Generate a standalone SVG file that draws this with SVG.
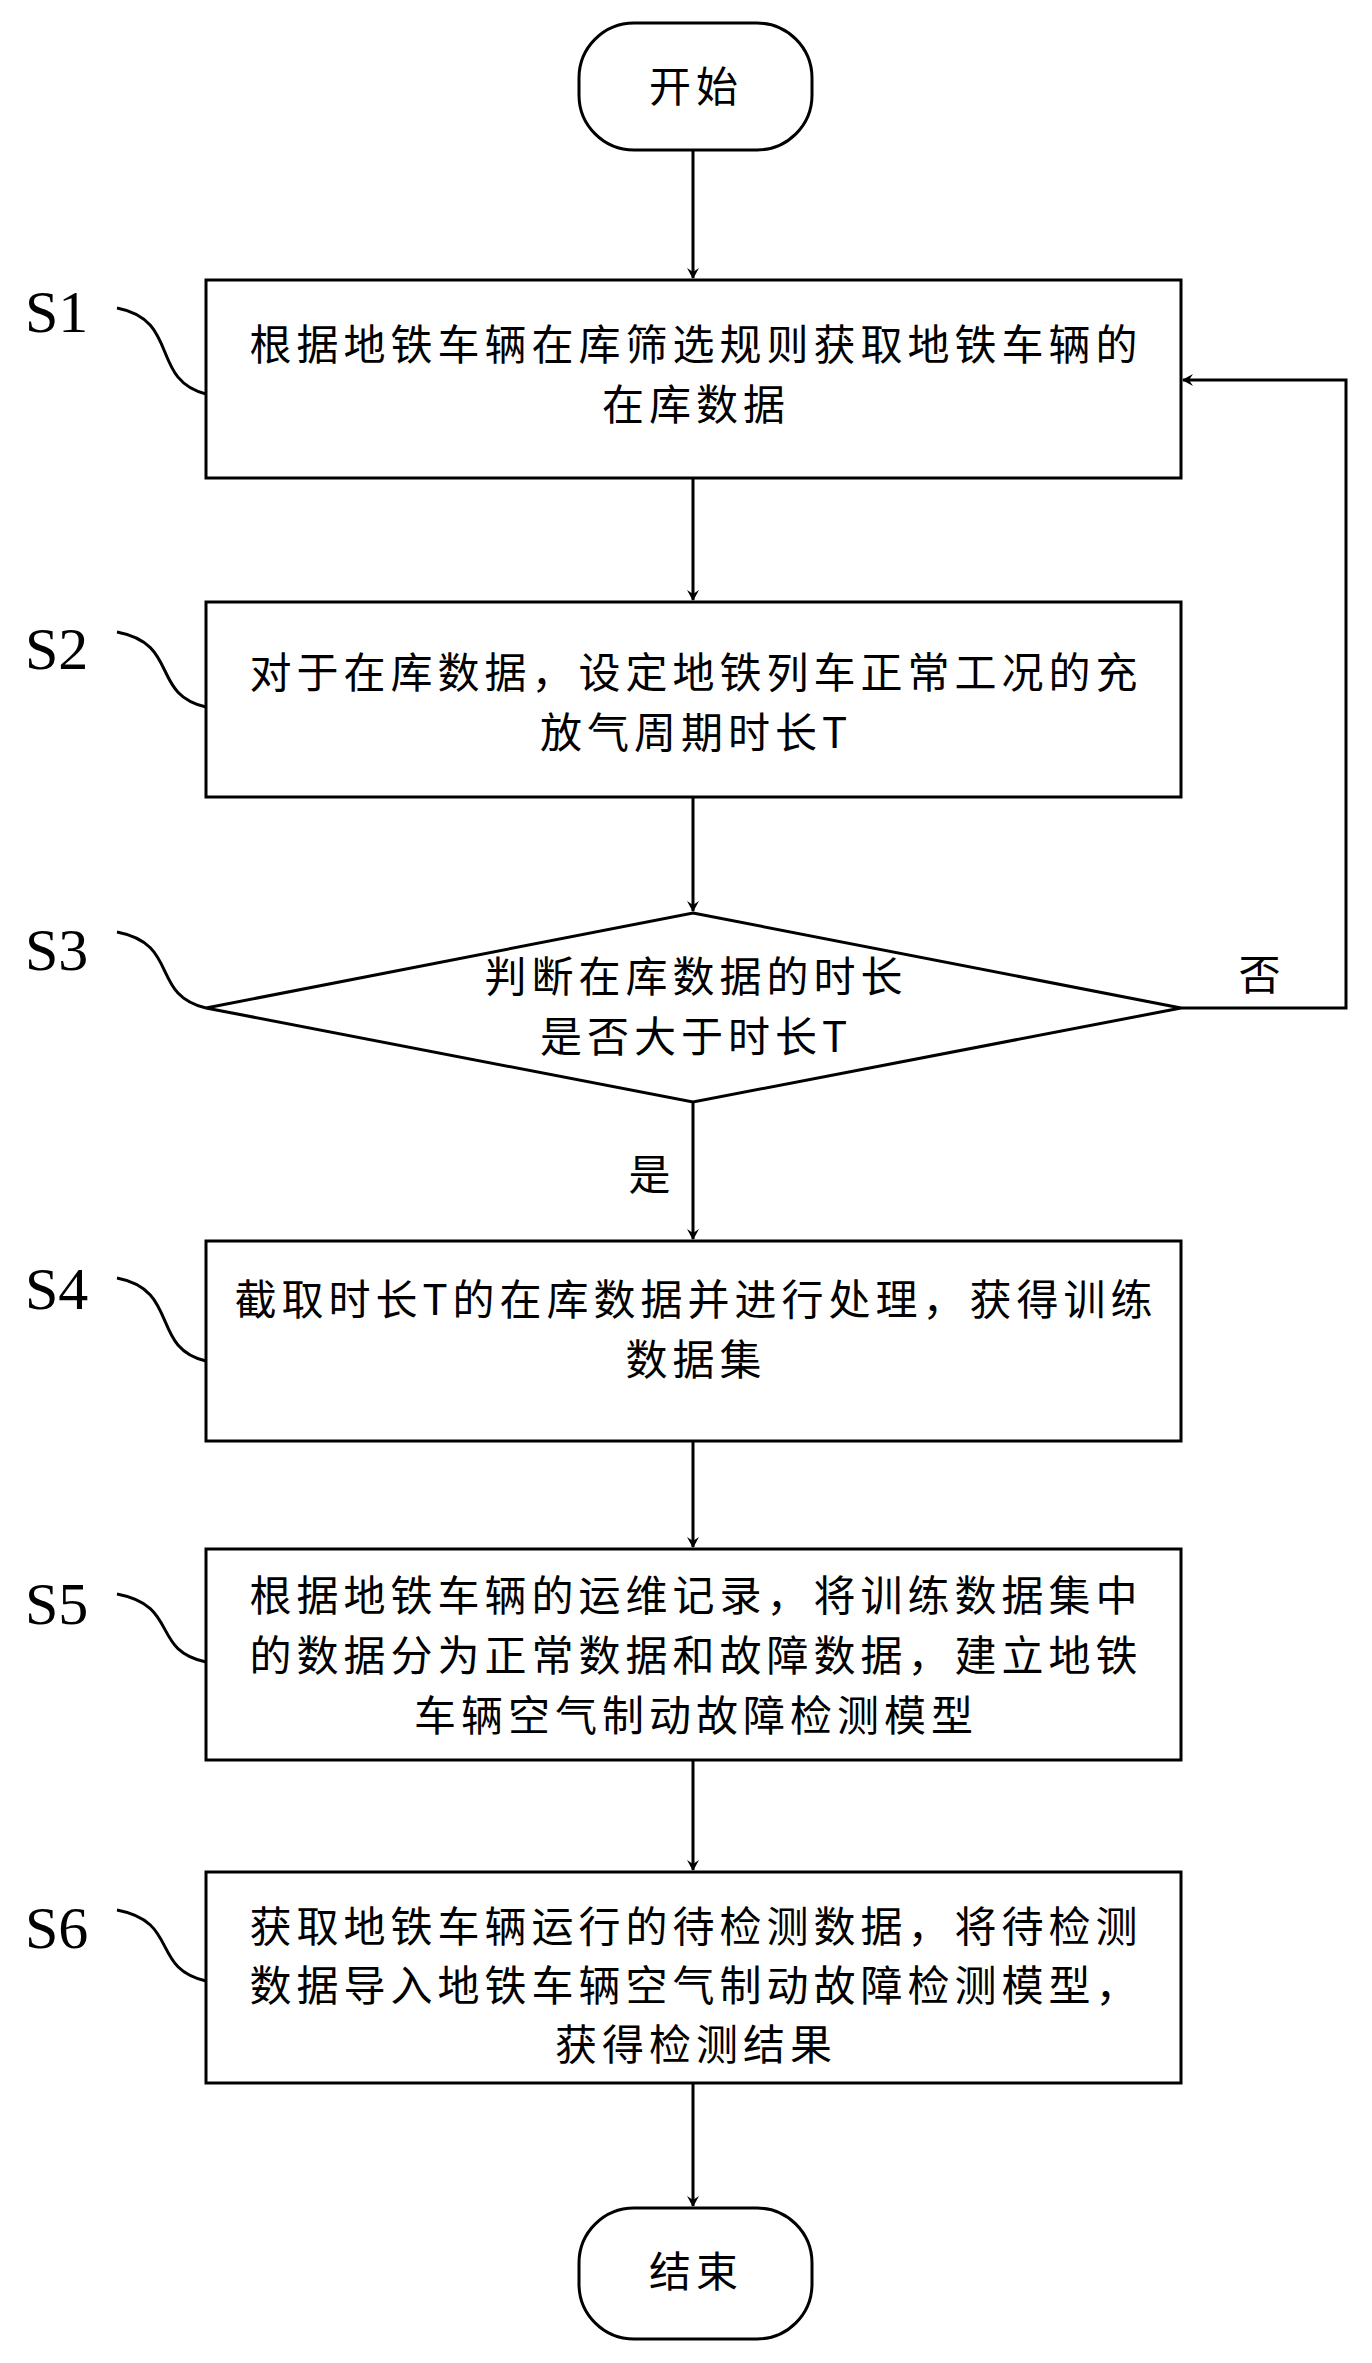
<svg xmlns="http://www.w3.org/2000/svg" width="1372" height="2363" viewBox="0 0 1372 2363">
<style>
.b{fill:#fff;stroke:#000;stroke-width:3}
.t{font-family:"Noto Sans CJK SC",sans-serif;font-size:42px;letter-spacing:5px;text-anchor:middle;fill:#000}
.s{font-family:"Liberation Serif",serif;font-size:60px;fill:#000}
.c{fill:none;stroke:#000;stroke-width:3}
</style>
<defs><marker id="a" markerWidth="12" markerHeight="12" refX="10" refY="6" orient="auto" markerUnits="userSpaceOnUse"><path d="M0,0 L11,6 L0,12 L4,6 Z" fill="#000"/></marker></defs>
<g id="start"><rect class="b" x="579" y="23" width="233" height="127" rx="55"/><text class="t" x="696" y="102">开始</text></g>
<g id="s1"><rect class="b" x="206" y="280" width="975" height="198"/><text class="t" x="696" y="360">根据地铁车辆在库筛选规则获取地铁车辆的</text><text class="t" x="696" y="420">在库数据</text><text class="s" x="25" y="332">S1</text><path class="c" d="M117,308 C180,320 150,380 206,394"/></g>
<g id="s2"><rect class="b" x="206" y="602" width="975" height="195"/><text class="t" x="696" y="688">对于在库数据，设定地铁列车正常工况的充</text><text class="t" x="696" y="748">放气周期时长T</text><text class="s" x="25" y="669">S2</text><path class="c" d="M117,632 C180,644 150,694 206,707"/></g>
<g id="s3"><polygon class="b" points="693,913 1181,1008 693,1102 206,1008"/><text class="t" x="696" y="992">判断在库数据的时长</text><text class="t" x="696" y="1052">是否大于时长T</text><text class="s" x="25" y="970">S3</text><path class="c" d="M117,932 C180,944 150,995 206,1008"/></g>
<g id="s4"><rect class="b" x="206" y="1241" width="975" height="200"/><text class="t" x="696" y="1315">截取时长T的在库数据并进行处理，获得训练</text><text class="t" x="696" y="1375">数据集</text><text class="s" x="25" y="1309">S4</text><path class="c" d="M117,1278 C180,1290 150,1348 206,1361"/></g>
<g id="s5"><rect class="b" x="206" y="1549" width="975" height="211"/><text class="t" x="696" y="1611">根据地铁车辆的运维记录，将训练数据集中</text><text class="t" x="696" y="1671">的数据分为正常数据和故障数据，建立地铁</text><text class="t" x="696" y="1731">车辆空气制动故障检测模型</text><text class="s" x="25" y="1624">S5</text><path class="c" d="M117,1594 C180,1606 150,1650 206,1662"/></g>
<g id="s6"><rect class="b" x="206" y="1872" width="975" height="211"/><text class="t" x="696" y="1942">获取地铁车辆运行的待检测数据，将待检测</text><text class="t" x="696" y="2001">数据导入地铁车辆空气制动故障检测模型，</text><text class="t" x="696" y="2060">获得检测结果</text><text class="s" x="25" y="1948">S6</text><path class="c" d="M117,1910 C180,1922 150,1968 206,1981"/></g>
<g id="end"><rect class="b" x="579" y="2208" width="233" height="131" rx="55"/><text class="t" x="696" y="2287">结束</text></g>
<g id="connectors">
<path class="c" d="M693,150 V278" marker-end="url(#a)"/>
<path class="c" d="M693,478 V600" marker-end="url(#a)"/>
<path class="c" d="M693,797 V911" marker-end="url(#a)"/>
<path class="c" d="M693,1102 V1239" marker-end="url(#a)"/>
<path class="c" d="M693,1441 V1547" marker-end="url(#a)"/>
<path class="c" d="M693,1760 V1870" marker-end="url(#a)"/>
<path class="c" d="M693,2083 V2206" marker-end="url(#a)"/>
<path class="c" d="M1181,1008 H1346 V380 H1183" marker-end="url(#a)"/>
<text class="t" x="1262" y="990">否</text>
<text class="t" x="652" y="1190">是</text>
</g>
</svg>
